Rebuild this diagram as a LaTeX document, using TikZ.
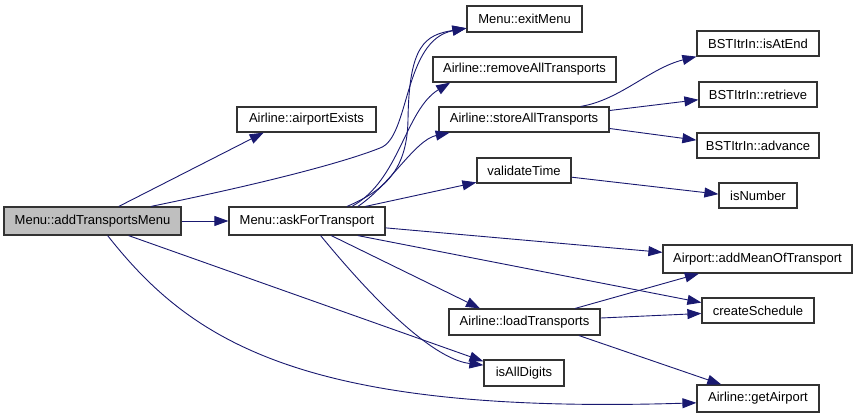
\documentclass[tikz,border=0pt]{standalone}
\usepackage{fontspec}
\setmainfont{Liberation Sans}
\usetikzlibrary{arrows.meta}
\definecolor{edgeblue}{HTML}{191970}
\definecolor{boxline}{HTML}{333333}
\definecolor{curfill}{HTML}{BFBFBF}

\begin{document}
\begin{tikzpicture}[x=1pt, y=-1pt,
  fn/.style={draw=boxline, line width=1.2pt, minimum height=25pt, inner sep=1pt, font=\fontsize{13}{15}\selectfont},
  cur/.style={fn, fill=curfill},
  arr/.style={-{Triangle[length=14pt, width=10pt]}, draw=edgeblue, line width=0.9pt}]
\useasboundingbox (0,0) rectangle (857,417);
% functions
\node[cur, minimum width=177pt, minimum height=28pt] (atm) at (92.5,221) {Menu::addTransportsMenu};
\node[fn, minimum width=156pt, minimum height=28pt] (aft) at (307,221) {Menu::askForTransport};
\node[fn, minimum width=139pt] (aex) at (306.5,119.5) {Airline::airportExists};
\node[fn, minimum width=115pt, minimum height=26pt] (exm) at (524.5,19) {Menu::exitMenu};
\node[fn, minimum width=183pt] (rat) at (524.5,69.5) {Airline::removeAllTransports};
\node[fn, minimum width=170pt] (sat) at (524,119.5) {Airline::storeAllTransports};
\node[fn, minimum width=94pt] (vt) at (524,170.5) {validateTime};
\node[fn, minimum width=151pt, minimum height=26pt] (lt) at (524.5,322) {Airline::loadTransports};
\node[fn, minimum width=80pt, minimum height=26pt] (iad) at (524,373) {isAllDigits};
\node[fn, minimum width=122pt] (iae) at (758,43.5) {BSTItrIn::isAtEnd};
\node[fn, minimum width=118pt] (ret) at (758,94.5) {BSTItrIn::retrieve};
\node[fn, minimum width=122pt] (adv) at (758,145.5) {BSTItrIn::advance};
\node[fn, minimum width=78pt] (isn) at (758,195.5) {isNumber};
\node[fn, minimum width=189pt, minimum height=28pt] (amt) at (757.5,259) {Airport::addMeanOfTransport};
\node[fn, minimum width=112pt] (csc) at (758,310.5) {createSchedule};
\node[fn, minimum width=122pt, minimum height=27pt] (gap) at (758,398.5) {Airline::getAirport};
% calls of addTransportsMenu
\draw[arr] (atm) -- (aft);
\draw[arr] (atm.29) -- (aex.197);
\draw[arr] (atm.14) .. controls (280,180) and (350,160) .. (380,148) .. controls (410,138) and (403,40) .. (exm.189);
\draw[arr] (atm.-22) -- (iad.164);
\draw[arr] (atm.-44) .. controls (190,340) and (300,415) .. (gap.184);
% calls of askForTransport
\draw[arr] (aft.20) .. controls (385,190) and (407,170) .. (408,120) .. controls (409,45) and (425,35) .. (exm.189);
\draw[arr] (aft.18) .. controls (400,180) and (405,110) .. (rat.190);
\draw[arr] (aft.16) .. controls (390,185) and (415,140) .. (sat.190);
\draw[arr] (aft.14) -- (vt.194);
\draw[arr] (aft.-5) -- (amt.176);
\draw[arr] (aft.-16) -- (csc.172);
\draw[arr] (aft.-31) -- (lt.163);
\draw[arr] (aft.-47) .. controls (390,320) and (440,360) .. (iad.169);
% deeper calls
\draw[arr] (sat.13) .. controls (620,100) and (650,68) .. (iae.192);
\draw[arr] (sat.6) -- (ret.185);
\draw[arr] (sat.-6) -- (adv.175);
\draw[arr] (vt.-8) -- (isn.178);
\draw[arr] (lt.15) -- (amt.194);
\draw[arr] (lt.3) -- (csc.183);
\draw[arr] (lt.-14) -- (gap.159);
\end{tikzpicture}
\end{document}
